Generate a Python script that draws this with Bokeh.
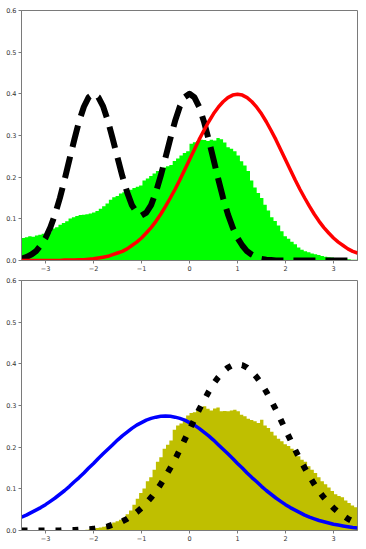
import numpy as np
from bokeh.plotting import figure
from bokeh.layouts import column
from bokeh.models import FixedTicker, NumeralTickFormatter, Range1d
from bokeh.embed import file_html
from bokeh.resources import INLINE

# ---------------- data ----------------
bin_edges = np.round(np.linspace(-3.5, 3.5, 101), 3)
x_curve = np.round(np.arange(-35, 36) / 10, 1)

top_hist = [
    0.054, 0.056, 0.058, 0.057, 0.060, 0.062, 0.064, 0.063, 0.068, 0.077,
    0.080, 0.086, 0.090, 0.094, 0.101, 0.104, 0.107, 0.109, 0.110, 0.111,
    0.113, 0.115, 0.119, 0.124, 0.130, 0.137, 0.146, 0.152, 0.155, 0.161,
    0.164, 0.168, 0.170, 0.174, 0.177, 0.180, 0.192, 0.197, 0.203, 0.209,
    0.215, 0.218, 0.223, 0.226, 0.229, 0.239, 0.245, 0.252, 0.258, 0.262,
    0.280, 0.284, 0.287, 0.290, 0.289, 0.287, 0.290, 0.288, 0.294, 0.291,
    0.283, 0.272, 0.268, 0.262, 0.252, 0.238, 0.228, 0.215, 0.192, 0.175,
    0.162, 0.150, 0.134, 0.120, 0.104, 0.095, 0.084, 0.070, 0.058, 0.052,
    0.045, 0.039, 0.031, 0.026, 0.022, 0.020, 0.017, 0.015, 0.013, 0.011,
    0.009, 0.008, 0.007, 0.006, 0.005, 0.004, 0.003, 0.003, 0.002, 0.002,
]

bottom_hist = [
    0.000, 0.000, 0.000, 0.000, 0.000, 0.000, 0.000, 0.000, 0.000, 0.000,
    0.000, 0.000, 0.000, 0.000, 0.000, 0.000, 0.000, 0.000, 0.001, 0.002,
    0.003, 0.004, 0.006, 0.007, 0.009, 0.011, 0.015, 0.019, 0.022, 0.026,
    0.031, 0.039, 0.048, 0.062, 0.076, 0.090, 0.101, 0.118, 0.128, 0.146,
    0.165, 0.176, 0.196, 0.206, 0.216, 0.242, 0.252, 0.257, 0.268, 0.276,
    0.282, 0.284, 0.290, 0.297, 0.298, 0.292, 0.288, 0.293, 0.295, 0.286,
    0.287, 0.286, 0.288, 0.290, 0.286, 0.278, 0.274, 0.268, 0.265, 0.262,
    0.258, 0.266, 0.252, 0.246, 0.237, 0.228, 0.220, 0.214, 0.207, 0.203,
    0.196, 0.190, 0.178, 0.170, 0.165, 0.154, 0.146, 0.138, 0.128, 0.118,
    0.111, 0.103, 0.095, 0.087, 0.083, 0.080, 0.072, 0.066, 0.060, 0.056,
]

top_dashed = [
    0.004, 0.008, 0.014, 0.022, 0.036, 0.054, 0.079, 0.111, 0.150, 0.195,
    0.243, 0.290, 0.334, 0.369, 0.392, 0.400, 0.392, 0.370, 0.335, 0.292,
    0.247, 0.203, 0.164, 0.133, 0.115, 0.108, 0.115, 0.133, 0.164, 0.203,
    0.247, 0.292, 0.335, 0.370, 0.392, 0.400, 0.392, 0.369, 0.334, 0.290,
    0.243, 0.195, 0.150, 0.111, 0.079, 0.054, 0.036, 0.022, 0.014, 0.008,
    0.004, 0.002, 0.001, 0.000, 0.000, 0.000, 0.000, 0.000, 0.000, 0.000,
    0.000, 0.000, 0.000, 0.000, 0.000, 0.000, 0.000, 0.000, 0.000, 0.000,
    0.000,
]

top_red = [
    0.000, 0.000, 0.000, 0.000, 0.000, 0.000, 0.000, 0.000, 0.000, 0.001,
    0.001, 0.001, 0.002, 0.002, 0.003, 0.004, 0.006, 0.008, 0.010, 0.014,
    0.018, 0.022, 0.028, 0.036, 0.044, 0.054, 0.066, 0.079, 0.094, 0.111,
    0.130, 0.150, 0.171, 0.194, 0.218, 0.242, 0.266, 0.290, 0.312, 0.333,
    0.352, 0.368, 0.381, 0.391, 0.397, 0.399, 0.397, 0.391, 0.381, 0.368,
    0.352, 0.333, 0.312, 0.290, 0.266, 0.242, 0.218, 0.194, 0.171, 0.150,
    0.130, 0.111, 0.094, 0.079, 0.066, 0.054, 0.044, 0.036, 0.028, 0.022,
    0.018,
]

bottom_blue = [
    0.032, 0.037, 0.043, 0.049, 0.055, 0.062, 0.070, 0.078, 0.087, 0.096,
    0.106, 0.117, 0.127, 0.138, 0.150, 0.161, 0.173, 0.184, 0.195, 0.206,
    0.217, 0.227, 0.236, 0.245, 0.253, 0.259, 0.265, 0.269, 0.272, 0.274,
    0.275, 0.274, 0.272, 0.269, 0.265, 0.259, 0.253, 0.245, 0.236, 0.227,
    0.217, 0.206, 0.195, 0.184, 0.173, 0.161, 0.150, 0.138, 0.127, 0.117,
    0.106, 0.096, 0.087, 0.078, 0.070, 0.062, 0.055, 0.049, 0.043, 0.037,
    0.032, 0.028, 0.024, 0.021, 0.018, 0.015, 0.013, 0.011, 0.009, 0.007,
    0.006,
]

bottom_dotted = [
    0.000, 0.000, 0.000, 0.000, 0.000, 0.000, 0.000, 0.000, 0.000, 0.001,
    0.001, 0.001, 0.002, 0.002, 0.003, 0.004, 0.006, 0.008, 0.010, 0.014,
    0.018, 0.022, 0.028, 0.036, 0.044, 0.054, 0.066, 0.079, 0.094, 0.111,
    0.130, 0.150, 0.171, 0.194, 0.218, 0.242, 0.266, 0.290, 0.312, 0.333,
    0.352, 0.368, 0.381, 0.391, 0.397, 0.399, 0.397, 0.391, 0.381, 0.368,
    0.352, 0.333, 0.312, 0.290, 0.266, 0.242, 0.218, 0.194, 0.171, 0.150,
    0.130, 0.111, 0.094, 0.079, 0.066, 0.054, 0.044, 0.036, 0.028, 0.022,
    0.018,
]

x_ticks = [-3, -2, -1, 0, 1, 2, 3]
x_tick_labels = {-3: "\u22123", -2: "\u22122", -1: "\u22121", 0: "0", 1: "1", 2: "2", 3: "3"}
y_ticks = [0.0, 0.1, 0.2, 0.3, 0.4, 0.5, 0.6]

FONT = "DejaVu Sans"
SPINE = "#7a7a7a"
LABEL = "#333333"


def step_outline(edges, heights):
    """Closed step polygon (histtype='stepfilled') from bin edges and heights."""
    xs = np.concatenate([[edges[0]], np.repeat(edges, 2)[1:-1], [edges[-1]]])
    ys = np.concatenate([[0.0], np.repeat(heights, 2), [0.0]])
    return xs, ys


def make_fig(border_top):
    p = figure(frame_width=336, frame_height=250,
               x_range=Range1d(-3.5, 3.5), y_range=Range1d(0, 0.6),
               output_backend="svg", toolbar_location=None,
               min_border_left=21, min_border_right=5,
               min_border_top=border_top, min_border_bottom=0,
               background_fill_color="white", border_fill_color="white")
    p.grid.visible = False
    p.outline_line_color = SPINE
    p.outline_line_width = 1
    p.xaxis.ticker = FixedTicker(ticks=x_ticks)
    p.xaxis.major_label_overrides = x_tick_labels
    p.yaxis.ticker = FixedTicker(ticks=y_ticks)
    p.yaxis.formatter = NumeralTickFormatter(format="0.0")
    for ax in (p.xaxis, p.yaxis):
        ax.axis_line_color = SPINE
        ax.major_tick_line_color = SPINE
        ax.major_tick_out = 3
        ax.major_tick_in = 0
        ax.minor_tick_line_color = None
        ax.major_label_text_font = FONT
        ax.major_label_text_font_size = "6.5px"
        ax.major_label_text_color = LABEL
        ax.major_label_standoff = 2
    return p


p1 = make_fig(10)
hx, hy = step_outline(bin_edges, top_hist)
p1.patch(hx, hy, fill_color="#00ff00", line_color=None)
p1.line(x_curve, top_dashed, line_color="black", line_width=6,
        line_dash="22 10", line_join="round")
p1.line(x_curve, top_red, line_color="red", line_width=3.5)

p2 = make_fig(7)
hx2, hy2 = step_outline(bin_edges, bottom_hist)
p2.patch(hx2, hy2, fill_color="#bfbf00", line_color=None)
p2.line(x_curve, bottom_blue, line_color="blue", line_width=3.5)
p2.line(x_curve, bottom_dotted, line_color="black", line_width=6,
        line_dash="6 11")

layout = column(p1, p2, spacing=0)
open("out.html", "w").write(file_html(layout, INLINE))
